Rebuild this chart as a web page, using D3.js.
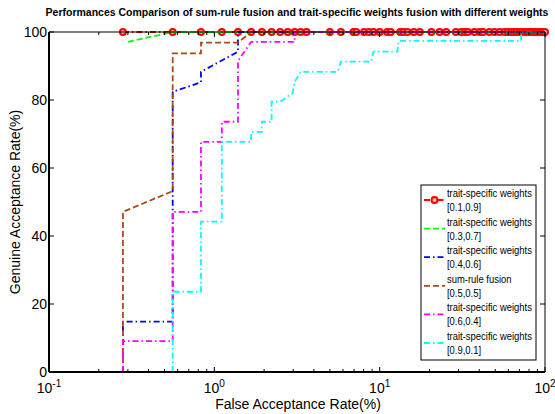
<!doctype html>
<html lang="en">
<head>
<meta charset="utf-8">
<script src="https://d3js.org/d3.v7.min.js"></script>
<style>
  body { margin: 0; background: #fff; }
  text { font-family: "Liberation Sans", Arial, sans-serif; fill: #000; }
</style>
</head>
<body>
<div id="viz"></div>
<script>

// FAR (%) / GAR (%)
var redFar = [0.28, 0.56, 0.83, 1.11, 1.39, 1.67, 1.94, 2.22, 2.5, 2.78, 3.06, 3.33, 3.61, 5.0, 5.83, 6.94, 7.22,
  8.06, 8.61, 9.17, 10.0, 11.11, 11.67, 13.33, 13.89, 14.72, 16.11, 17.5, 20.56, 23.06, 25.28, 28.89, 31.11,
  32.78, 34.17, 37.5, 40.28, 42.22, 46.11, 49.44, 53.06, 56.94, 59.72, 62.5, 65.0, 67.5, 70.0, 72.5, 75.0,
  77.5, 80.0, 82.5, 85.0, 87.5, 90.0, 92.5, 95.0, 97.5, 100];
var redGar = [100, 100, 100, 100, 100, 100, 100, 100, 100, 100, 100, 100, 100, 100, 100, 100, 100,
  100, 100, 100, 100, 100, 100, 100, 100, 100, 100, 100, 100, 100, 100, 100, 100,
  100, 100, 100, 100, 100, 100, 100, 100, 100, 100, 100, 100, 100, 100, 100, 100,
  100, 100, 100, 100, 100, 100, 100, 100, 100, 100];

var greenFar = [0.3, 0.56, 100];
var greenGar = [97.1, 100, 100];

var blueFar = [0.28, 0.28, 0.56, 0.56, 0.83, 0.83, 1.39, 1.39, 100];
var blueGar = [0, 14.8, 14.8, 82.4, 85.2, 88.3, 94.2, 100, 100];

var brownFar = [0.28, 0.28, 0.56, 0.56, 0.83, 0.83, 1.39, 1.67, 100];
var brownGar = [0, 47.1, 53.2, 93.7, 93.7, 96.9, 96.9, 100, 100];

var magentaFar = [0.28, 0.28, 0.56, 0.56, 0.83, 0.83, 1.11, 1.11, 1.39, 1.39, 1.67, 3.06, 3.06, 100];
var magentaGar = [0, 9.1, 9.1, 47.1, 47.1, 67.7, 67.7, 73.6, 73.6, 91.5, 97.1, 97.1, 100, 100];

var cyanFar = [0.56, 0.56, 0.83, 0.83, 1.11, 1.11, 1.67, 1.67, 1.94, 1.94, 2.22, 2.22, 2.5, 2.97, 3.06, 3.33,
  5.56, 5.83, 8.89, 9.17, 12.78, 13.06, 71.67, 71.67, 100];
var cyanGar = [0, 23.6, 23.6, 44.2, 44.2, 67.7, 67.7, 70.6, 70.6, 73.6, 73.6, 79.5, 79.5, 82, 85.3, 88.3,
  88.3, 91.3, 91.3, 94.2, 94.2, 97.4, 97.4, 100, 100];

var legendNames = [
  ["trait-specific weights", "[0.1,0.9]"],
  ["trait-specific weights", "[0.3,0.7]"],
  ["trait-specific weights", "[0.4,0.6]"],
  ["sum-rule fusion", "[0.5,0.5]"],
  ["trait-specific weights", "[0.6,0.4]"],
  ["trait-specific weights", "[0.9,0.1]"]
];

var yTicks = [0, 20, 40, 60, 80, 100];
var xDecades = [0.1, 1, 10, 100];
var xDecadeExp = ["-1", "0", "1", "2"];

var width = 555, height = 414;
var mLeft = 49, mRight = 545, mTop = 32, mBottom = 372;

var x = d3.scaleLog().domain([0.1, 100]).range([mLeft, mRight]);
var y = d3.scaleLinear().domain([0, 100]).range([mBottom, mTop]);

var dashed = "6,3";
var dashdot = "6,3,1.5,3";

var series = [
  {far: redFar, gar: redGar, color: "#ff0000", dash: dashdot, marker: true},
  {far: greenFar, gar: greenGar, color: "#00ff00", dash: dashed},
  {far: blueFar, gar: blueGar, color: "#0000ff", dash: dashdot},
  {far: brownFar, gar: brownGar, color: "#a84a1c", dash: dashed},
  {far: magentaFar, gar: magentaGar, color: "#ff00ff", dash: dashdot},
  {far: cyanFar, gar: cyanGar, color: "#00ffff", dash: dashdot}
];

var svg = d3.select("#viz").append("svg")
    .attr("width", width)
    .attr("height", height);

svg.append("defs").append("clipPath").attr("id", "plotclip")
  .append("rect")
    .attr("x", mLeft - 4).attr("y", mTop - 4)
    .attr("width", mRight - mLeft + 8).attr("height", mBottom - mTop + 6);

// title
svg.append("text")
    .attr("x", 297).attr("y", 16)
    .attr("text-anchor", "middle")
    .style("font-size", "10.5px")
    .style("font-weight", "bold")
    .text("Performances Comparison of sum-rule fusion and trait-specific weights fusion with different weights");

// lines
var line = d3.line()
    .x(d => x(d[0]))
    .y(d => y(d[1]));

var plot = svg.append("g").attr("clip-path", "url(#plotclip)");

series.forEach(function(s) {
  var pts = s.far.map((f, i) => [f, s.gar[i]]);
  plot.append("path")
      .datum(pts)
      .attr("fill", "none")
      .attr("stroke", s.color)
      .attr("stroke-width", 1.8)
      .attr("stroke-dasharray", s.dash)
      .attr("d", line);
  if (s.marker) {
    plot.append("g").selectAll("circle")
      .data(pts)
      .join("circle")
        .attr("cx", d => x(d[0]))
        .attr("cy", d => y(d[1]))
        .attr("r", 3)
        .attr("fill", "#ffb0b0")
        .attr("stroke", s.color)
        .attr("stroke-width", 2);
  }
});

// frame
var frame = svg.append("g").attr("stroke", "#000").attr("fill", "none");
frame.append("line").attr("x1", mLeft).attr("x2", mRight).attr("y1", mTop).attr("y2", mTop).attr("stroke-width", 1);
frame.append("line").attr("x1", mRight).attr("x2", mRight).attr("y1", mTop).attr("y2", mBottom).attr("stroke-width", 1);
frame.append("line").attr("x1", mLeft).attr("x2", mRight).attr("y1", mBottom).attr("y2", mBottom).attr("stroke-width", 2);
frame.append("line").attr("x1", mLeft).attr("x2", mLeft).attr("y1", mTop).attr("y2", mBottom).attr("stroke-width", 2);

// y ticks
yTicks.forEach(function(t) {
  frame.append("line").attr("x1", mLeft).attr("x2", mLeft + 5).attr("y1", y(t)).attr("y2", y(t));
  frame.append("line").attr("x1", mRight).attr("x2", mRight - 5).attr("y1", y(t)).attr("y2", y(t));
  svg.append("text")
      .attr("x", mLeft - 2).attr("y", y(t) + 5)
      .attr("text-anchor", "end")
      .style("font-size", "14px")
      .text(t);
});

// x ticks (major + minor)
var minor = x.ticks();
minor.forEach(function(t) {
  var major = xDecades.indexOf(t) >= 0;
  var len = major ? 5 : 3;
  frame.append("line").attr("x1", x(t)).attr("x2", x(t)).attr("y1", mBottom).attr("y2", mBottom - len);
  frame.append("line").attr("x1", x(t)).attr("x2", x(t)).attr("y1", mTop).attr("y2", mTop + len);
});

xDecades.forEach(function(t, i) {
  var lab = svg.append("text")
      .attr("x", x(t)).attr("y", 393)
      .attr("text-anchor", "middle")
      .style("font-size", "14px");
  lab.append("tspan").text("10");
  lab.append("tspan").attr("dy", -6).style("font-size", "10px").text(xDecadeExp[i]);
});

// axis labels
svg.append("text")
    .attr("x", 298).attr("y", 409)
    .attr("text-anchor", "middle")
    .style("font-size", "14px")
    .text("False Acceptance Rate(%)");

svg.append("text")
    .attr("transform", "translate(20,202) rotate(-90)")
    .attr("text-anchor", "middle")
    .style("font-size", "14px")
    .text("Genuine Acceptance Rate(%)");

// legend
var lg = svg.append("g");
lg.append("rect")
    .attr("x", 421).attr("y", 185)
    .attr("width", 115).attr("height", 175)
    .attr("fill", "#fff")
    .attr("stroke", "#000")
    .attr("stroke-width", 1);

series.forEach(function(s, i) {
  var y0 = 194 + i * 28.6;
  lg.append("line")
      .attr("x1", 424).attr("x2", 445)
      .attr("y1", y0 + 6).attr("y2", y0 + 6)
      .attr("stroke", s.color)
      .attr("stroke-width", 1.8)
      .attr("stroke-dasharray", s.dash);
  if (s.marker) {
    lg.append("circle")
        .attr("cx", 434.5).attr("cy", y0 + 6).attr("r", 3)
        .attr("fill", "#ffb0b0").attr("stroke", s.color).attr("stroke-width", 2);
  }
  var t = lg.append("g").attr("transform", "translate(447," + y0 + ") scale(0.9,1)");
  t.append("text").attr("x", 0).attr("y", 3).style("font-size", "10.5px").text(legendNames[i][0]);
  t.append("text").attr("x", 0).attr("y", 17).style("font-size", "10.5px").text(legendNames[i][1]);
});

</script>
</body>
</html>
